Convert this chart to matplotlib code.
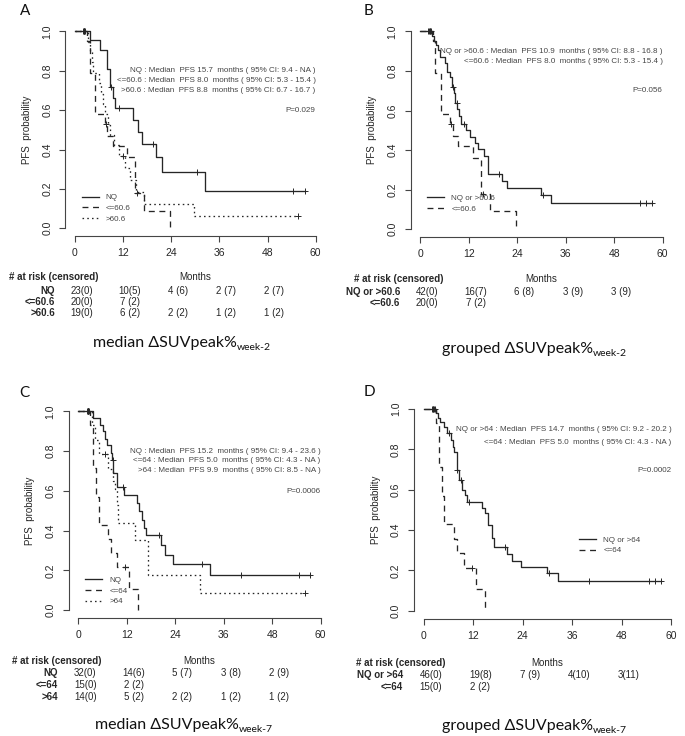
import numpy as np
import matplotlib.pyplot as plt
from matplotlib.transforms import blended_transform_factory

plt.rcParams['font.family'] = ['Liberation Sans', 'DejaVu Sans']

W, H = 685, 736
INK = '#262626'
GREY = '#454545'

ticks_x = [0, 12, 24, 36, 48, 60]
ticks_y = [0.0, 0.2, 0.4, 0.6, 0.8, 1.0]
risk_at = [0, 12, 24, 36, 48]

# Kaplan-Meier steps: event times (months), PFS after each step
# week-2, NQ
nq2_t = [3.7, 6.2, 8.1, 8.6, 9.5, 10.0, 14.5, 15.6, 16.8, 20.2, 21.6, 32.4]
nq2_s = [0.955, 0.905, 0.81, 0.715, 0.66, 0.61, 0.55, 0.49, 0.43, 0.36, 0.285, 0.19]
nq2_c = [2.1, 2.3, 2.5, 9.0, 11.0, 19.5, 30.5, 54.4, 57.4]
# week-2, <=60.6
lo2_t = [3.1, 3.7, 5.0, 7.4, 8.0, 9.4, 13.0, 15.0, 17.2, 23.7]
lo2_s = [0.95, 0.79, 0.58, 0.53, 0.47, 0.42, 0.36, 0.18, 0.09, 0.0]
lo2_c = [2.3, 7.7, 15.4]
# week-2, >60.6
hi2_t = [3.3, 3.7, 4.2, 4.6, 6.0, 6.5, 7.0, 7.5, 8.2, 8.8, 9.6, 11.0, 12.4, 13.6, 15.3, 17.2, 29.7]
hi2_s = [0.947, 0.895, 0.842, 0.789, 0.737, 0.684, 0.632, 0.579, 0.526, 0.474, 0.421,
         0.368, 0.305, 0.245, 0.185, 0.124, 0.062]
hi2_c = [2.3, 12.0, 55.7]
# week-2, NQ or >60.6
nqhi2_t = [2.9, 3.5, 3.9, 4.3, 4.8, 6.2, 6.6, 7.3, 7.8, 8.3, 8.7, 9.2, 9.6, 10.1, 11.2,
           12.4, 13.6, 14.4, 15.8, 16.7, 20.2, 21.5, 29.9, 32.4]
nqhi2_s = [0.976, 0.952, 0.929, 0.905, 0.872, 0.84, 0.795, 0.768, 0.72, 0.69, 0.64, 0.61,
           0.57, 0.53, 0.50, 0.468, 0.434, 0.404, 0.37, 0.279, 0.244, 0.21, 0.173, 0.131]
nqhi2_c = [2.0, 2.2, 2.4, 2.6, 8.2, 9.0, 10.9, 19.4, 30.4, 54.5, 55.9, 57.3]

# week-7, NQ
nq7_t = [3.7, 5.4, 6.2, 6.5, 7.0, 8.1, 8.4, 8.7, 9.5, 11.3, 14.6, 15.1, 15.8, 16.2, 16.7,
         20.4, 21.5, 23.5, 32.6]
nq7_s = [0.965, 0.93, 0.9, 0.86, 0.83, 0.79, 0.755, 0.69, 0.62, 0.58, 0.54, 0.50, 0.455,
         0.415, 0.375, 0.327, 0.277, 0.233, 0.176]
nq7_c = [2.1, 2.3, 2.5, 2.7, 8.5, 11.1, 19.9, 30.5, 40.2, 54.7, 57.3]
# week-7, <=64
lo7_t = [2.9, 3.7, 4.5, 5.0, 7.4, 8.0, 9.7, 12.6, 14.9]
lo7_s = [0.933, 0.714, 0.571, 0.43, 0.357, 0.286, 0.214, 0.107, 0.0]
lo7_c = [2.3, 11.6]
# week-7, >64
hi7_t = [3.3, 4.1, 5.0, 7.4, 8.5, 9.1, 9.5, 9.9, 14.0, 17.3, 30.0]
hi7_s = [0.93, 0.857, 0.786, 0.708, 0.65, 0.61, 0.528, 0.44, 0.352, 0.176, 0.088]
hi7_c = [2.3, 6.6, 56.1]
# week-7, NQ or >64
nqhi7_t = [3.0, 3.4, 4.0, 4.8, 5.7, 6.5, 7.0, 7.3, 8.0, 8.6, 9.2, 9.9, 10.5, 14.1, 14.8,
           15.6, 16.6, 17.0, 20.2, 21.4, 23.6, 29.9, 32.6]
nqhi7_s = [0.978, 0.957, 0.934, 0.91, 0.879, 0.845, 0.81, 0.788, 0.70, 0.648, 0.60, 0.574,
           0.54, 0.51, 0.483, 0.425, 0.36, 0.317, 0.279, 0.246, 0.215, 0.185, 0.149]
nqhi7_c = [2.1, 2.3, 2.5, 2.7, 6.2, 8.1, 9.1, 10.9, 19.6, 30.3, 40.1, 54.5, 56.1, 57.4]

# numbers at risk (censored)
risk_a = [('NQ', ['23(0)', '10(5)', '4 (6)', '2 (7)', '2 (7)']),
          ('<=60.6', ['20(0)', '7 (2)']),
          ('>60.6', ['19(0)', '6 (2)', '2 (2)', '1 (2)', '1 (2)'])]
risk_b = [('NQ or >60.6', ['42(0)', '16(7)', '6 (8)', '3 (9)', '3 (9)']),
          ('<=60.6', ['20(0)', '7 (2)'])]
risk_c = [('NQ', ['32(0)', '14(6)', '5 (7)', '3 (8)', '2 (9)']),
          ('<=64', ['15(0)', '2 (2)']),
          ('>64', ['14(0)', '5 (2)', '2 (2)', '1 (2)', '1 (2)'])]
risk_d = [('NQ or >64', ['46(0)', '19(8)', '7 (9)', '4(10)', '3(11)']),
          ('<=64', ['15(0)', '2 (2)'])]

notes_a = ['NQ : Median  PFS 15.7  months ( 95% CI: 9.4 - NA )',
           '<=60.6 : Median  PFS 8.0  months ( 95% CI: 5.3 - 15.4 )',
           '>60.6 : Median  PFS 8.8  months ( 95% CI: 6.7 - 16.7 )']
notes_b = ['NQ or >60.6 : Median  PFS 10.9  months ( 95% CI: 8.8 - 16.8 )',
           '<=60.6 : Median  PFS 8.0  months ( 95% CI: 5.3 - 15.4 )']
notes_c = ['NQ : Median  PFS 15.2  months ( 95% CI: 9.4 - 23.6 )',
           '<=64 : Median  PFS 5.0  months ( 95% CI: 4.3 - NA )',
           '>64 : Median  PFS 9.9  months ( 95% CI: 8.5 - NA )']
notes_d = ['NQ or >64 : Median  PFS 14.7  months ( 95% CI: 9.2 - 20.2 )',
           '<=64 : Median  PFS 5.0  months ( 95% CI: 4.3 - NA )']

SOLID = '-'
DASH = (0, (4.5, 3.5))
DOT = (0, (1.2, 2.4))

fig = plt.figure(figsize=(W / 100, H / 100), dpi=100)


def make_axes(x0, x60, y0, y1):
    # pixel positions of x=0, x=60, y=0, y=1 ; R style 4% padding
    px = (x60 - x0) / 60.0
    py = y0 - y1
    left, right = x0 - 2.4 * px, x60 + 2.4 * px
    top, bottom = y1 - 0.04 * py, y0 + 0.04 * py
    ax = fig.add_axes([left / W, 1 - bottom / H, (right - left) / W, (bottom - top) / H])
    ax.set_xlim(-2.4, 62.4)
    ax.set_ylim(-0.04, 1.04)
    ax.patch.set_visible(False)
    for s in ['top', 'right']:
        ax.spines[s].set_visible(False)
    ax.spines['left'].set_bounds(0, 1)
    ax.spines['bottom'].set_bounds(0, 60)
    for s in ['left', 'bottom']:
        ax.spines[s].set_color(GREY)
        ax.spines[s].set_linewidth(0.8)
    ax.set_xticks(ticks_x)
    ax.set_yticks(ticks_y)
    ax.set_yticklabels([f'{v:.1f}' for v in ticks_y], rotation=90, va='center')
    ax.tick_params(length=4.3, width=0.8, color=GREY, labelsize=7.5, labelcolor=INK)
    ax.tick_params(axis='x', pad=4.5)
    ax.tick_params(axis='y', pad=5)
    ax.set_ylabel('PFS  probability', fontsize=7, color=INK)
    ax.yaxis.set_label_coords((2.4 * px - 43) / (64.8 * px), 0.5)
    return ax


def km(ax, t, s, cens, ls, label):
    end = max(t[-1], cens[-1])
    x = np.r_[0, t, end]
    y = np.r_[1, s, s[-1]]
    line, = ax.step(x, y, where='post', color=INK, lw=0.95, linestyle=ls, label=label)
    idx = np.searchsorted(t, cens, side='right')
    cy = np.r_[1, s][idx]
    ax.plot(cens, cy, linestyle='none', marker='+', ms=5, mew=0.7, color=INK)
    return line


def notes(ax, lines, ys, ptxt, py):
    for txt, y in zip(lines, ys):
        ax.text(60, y, txt, ha='right', va='center', fontsize=5.75, color=GREY)
    ax.text(60, py, ptxt, ha='right', va='center', fontsize=5.75, color=GREY)


def legend(ax, handles, x, y):
    ax.legend(handles=handles, loc='upper left', bbox_to_anchor=(x, y),
              bbox_transform=ax.transData, frameon=False, fontsize=5.75,
              handlelength=2.1, handletextpad=0.9, labelspacing=0.4,
              borderpad=0, borderaxespad=0, labelcolor=GREY)


def risk_table(ax, rows, head_y, row_ys):
    tr = blended_transform_factory(ax.transData, fig.transFigure)
    ax.text(-16.4, 1 - head_y / H, '# at risk (censored)', transform=tr, ha='left',
            va='center', fontsize=7, fontweight='bold', color=INK)
    ax.text(30, 1 - head_y / H, 'Months', transform=tr, ha='center', va='center',
            fontsize=7, color=INK)
    for (lab, vals), yy in zip(rows, row_ys):
        ax.text(-5, 1 - yy / H, lab, transform=tr, ha='right', va='center',
                fontsize=7, fontweight='bold', color=INK)
        for t, v in zip(risk_at, vals):
            ax.text(t + 1.7, 1 - yy / H, v, transform=tr, ha='center', va='center',
                    fontsize=7, color=INK)


def caption(ax, main, sub, x, y):
    t = fig.text(x / W, 1 - y / H, main, fontsize=11.5, family=['Lato', 'DejaVu Sans'],
                 ha='left', va='baseline', color='#111111')
    ax.annotate(sub, xy=(1, 0), xycoords=t, ha='left', va='baseline', fontsize=7.5,
                family=['Lato', 'DejaVu Sans'], color='#111111')


def letter(s, x, y):
    fig.text(x / W, 1 - y / H, s, fontsize=11, family=['Lato', 'DejaVu Sans'],
             ha='left', va='baseline', color='#111111')


# A
ax = make_axes(75, 315.7, 228.3, 31.3)
h1 = km(ax, nq2_t, nq2_s, nq2_c, SOLID, 'NQ')
h2 = km(ax, lo2_t, lo2_s, lo2_c, DASH, '<=60.6')
h3 = km(ax, hi2_t, hi2_s, hi2_c, DOT, '>60.6')
legend(ax, [h1, h2, h3], 1.7, 0.175)
notes(ax, notes_a, [0.80, 0.751, 0.702], 'P=0.029', 0.60)
risk_table(ax, risk_a, 277, [290.7, 302, 313.3])
caption(ax, 'median \u0394SUVpeak%', 'week-2', 93, 347)
letter('A', 20, 15)

# B
ax = make_axes(420.3, 662.7, 229.3, 31.3)
h1 = km(ax, nqhi2_t, nqhi2_s, nqhi2_c, SOLID, 'NQ or >60.6')
h2 = km(ax, lo2_t, lo2_s, lo2_c, DASH, '<=60.6')
legend(ax, [h1, h2], 1.7, 0.175)
notes(ax, notes_b, [0.897, 0.847], 'P=0.056', 0.70)
risk_table(ax, risk_b, 279, [291.7, 303])
caption(ax, 'grouped \u0394SUVpeak%', 'week-2', 442, 353)
letter('B', 364, 15)

# C
ax = make_axes(78.3, 320.7, 610, 411.3)
h1 = km(ax, nq7_t, nq7_s, nq7_c, SOLID, 'NQ')
h2 = km(ax, lo7_t, lo7_s, lo7_c, DASH, '<=64')
h3 = km(ax, hi7_t, hi7_s, hi7_c, DOT, '>64')
legend(ax, [h1, h2, h3], 1.7, 0.17)
notes(ax, notes_c, [0.80, 0.752, 0.701], 'P=0.0006', 0.596)
risk_table(ax, risk_c, 660.7, [673.3, 684.5, 696.7])
caption(ax, 'median \u0394SUVpeak%', 'week-7', 95, 729)
letter('C', 19, 397)

# D
ax = make_axes(423.7, 671.3, 610.7, 409)
h1 = km(ax, nqhi7_t, nqhi7_s, nqhi7_c, SOLID, 'NQ or >64')
h2 = km(ax, lo7_t, lo7_s, lo7_c, DASH, '<=64')
legend(ax, [h1, h2], 37.7, 0.37)
notes(ax, notes_d, [0.896, 0.833], 'P=0.0002', 0.693)
risk_table(ax, risk_d, 663, [675, 686.7])
caption(ax, 'grouped \u0394SUVpeak%', 'week-7', 442, 730)
letter('D', 364, 396)

fig.savefig('out.png', dpi=100)
